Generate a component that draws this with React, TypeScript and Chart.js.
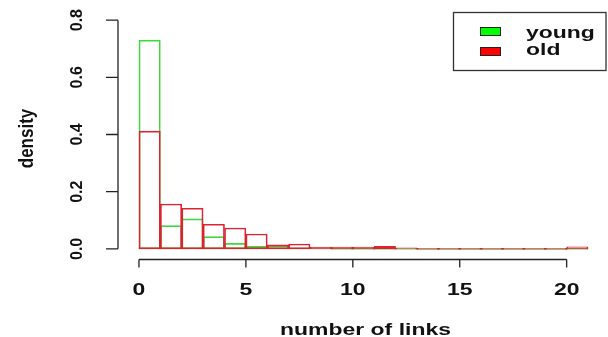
import React, { useEffect, useRef } from 'react';
import { Chart, registerables } from 'chart.js';

Chart.register(...registerables);

// Histogram bins: [start, start+1)
const binStarts = [0, 1, 2, 3, 4, 5, 6, 7, 8, 9, 10, 11, 12, 13, 14, 15, 16, 17, 18, 19, 20];
const youngDensity = [0.73, 0.081, 0.105, 0.043, 0.019, 0.009, 0.011, 0.004, 0.002, 0, 0, 0, 0, 0, 0, 0, 0, 0, 0, 0, 0];
const oldDensity = [0.412, 0.157, 0.142, 0.086, 0.073, 0.052, 0.014, 0.017, 0.006, 0.006, 0.006, 0.009, 0.004, 0, 0, 0, 0, 0, 0, 0, 0.007];
const seriesNames = ['young', 'old'];
const xTicks = [0, 5, 10, 15, 20];
const yTicks = [0, 0.2, 0.4, 0.6, 0.8];
const yTickLabels = ['0.0', '0.2', '0.4', '0.6', '0.8'];
const xTitle = 'number of links';
const yTitle = 'density';

const GREEN_LINE = '#3cd83c';
const RED_LINE = '#dd2230';
const GREEN_FILL = '#00ff00';
const RED_FILL = '#ff0000';
const FONT = '"Liberation Sans", Arial, sans-serif';

function stretchedText(ctx: CanvasRenderingContext2D, text: string, x: number, y: number, sx: number) {
  ctx.save();
  ctx.translate(x, y);
  ctx.scale(sx, 1);
  ctx.fillText(text, 0, 0);
  ctx.restore();
}

function rotatedText(ctx: CanvasRenderingContext2D, text: string, x: number, y: number, sx: number) {
  ctx.save();
  ctx.translate(x, y);
  ctx.scale(sx, 1);
  ctx.rotate(-Math.PI / 2);
  ctx.fillText(text, 0, 0);
  ctx.restore();
}

const rAxesPlugin = {
  id: 'rAxes',
  afterDraw(chart: any) {
    const { ctx, chartArea } = chart;
    const xs = chart.scales.x;
    const ys = chart.scales.y;
    ctx.save();
    ctx.strokeStyle = '#222';
    ctx.fillStyle = '#111';
    ctx.lineWidth = 1.3;

    // X axis
    const axY = chartArea.bottom + 1.5;
    ctx.beginPath();
    ctx.moveTo(xs.getPixelForValue(xTicks[0]), axY);
    ctx.lineTo(xs.getPixelForValue(xTicks[xTicks.length - 1]), axY);
    xTicks.forEach((t) => {
      const px = xs.getPixelForValue(t);
      ctx.moveTo(px, axY);
      ctx.lineTo(px, axY + 8);
    });
    ctx.stroke();
    ctx.font = 'bold 17px ' + FONT;
    ctx.textAlign = 'center';
    ctx.textBaseline = 'alphabetic';
    xTicks.forEach((t) => {
      stretchedText(ctx, String(t), xs.getPixelForValue(t), 295, 1.35);
    });
    stretchedText(ctx, xTitle, (chartArea.left + chartArea.right) / 2 + 2, 335, 1.35);

    // Y axis
    const axX = chartArea.left - 3;
    ctx.beginPath();
    ctx.moveTo(axX, ys.getPixelForValue(yTicks[0]));
    ctx.lineTo(axX, ys.getPixelForValue(yTicks[yTicks.length - 1]));
    yTicks.forEach((t) => {
      const py = ys.getPixelForValue(t);
      ctx.moveTo(axX, py);
      ctx.lineTo(axX - 12, py);
    });
    ctx.stroke();
    ctx.font = 'bold 16px ' + FONT;
    yTicks.forEach((t, i) => {
      rotatedText(ctx, yTickLabels[i], 82, ys.getPixelForValue(t), 1.0);
    });
    ctx.font = 'bold 17px ' + FONT;
    rotatedText(ctx, yTitle, 33, (ys.getPixelForValue(0) + ys.getPixelForValue(0.8)) / 2 + 4, 1.2);

    // Legend box
    const lx = 453.5, ly = 12.5, lw = 152.5, lh = 58;
    ctx.strokeStyle = '#333';
    ctx.lineWidth = 1.3;
    ctx.strokeRect(lx, ly, lw, lh);
    const swatches = [GREEN_FILL, RED_FILL];
    const rows = [27, 47];
    const baselines = [38, 55];
    seriesNames.forEach((name, i) => {
      ctx.fillStyle = swatches[i];
      ctx.fillRect(480, rows[i], 20, 8);
      ctx.strokeStyle = '#222';
      ctx.lineWidth = 1;
      ctx.strokeRect(480.5, rows[i] + 0.5, 20, 8);
      ctx.fillStyle = '#111';
      ctx.textAlign = 'left';
      ctx.font = 'bold 17px ' + FONT;
      stretchedText(ctx, name, 526, baselines[i], 1.35);
    });
    ctx.restore();
  },
};

export default function App() {
  const canvasRef = useRef<HTMLCanvasElement | null>(null);

  useEffect(() => {
    if (!canvasRef.current) return;
    const youngData = binStarts.map((s, i) => ({ x: s + 0.5, y: youngDensity[i] }));
    const oldData = binStarts.map((s, i) => ({ x: s + 0.5, y: oldDensity[i] }));
    const chart = new Chart(canvasRef.current, {
      type: 'bar',
      data: {
        datasets: [
          {
            label: seriesNames[0],
            data: youngData,
            borderColor: GREEN_LINE,
            backgroundColor: 'rgba(0,0,0,0)',
            borderWidth: 1,
            borderSkipped: false,
            minBarLength: 1,
            order: 2,
          },
          {
            label: seriesNames[1],
            data: oldData,
            borderColor: RED_LINE,
            backgroundColor: 'rgba(0,0,0,0)',
            borderWidth: 1,
            borderSkipped: false,
            minBarLength: 1,
            order: 1,
          },
        ],
      },
      options: {
        responsive: false,
        animation: false,
        layout: { padding: { left: 121, right: 2, top: 11, bottom: 79 } },
        datasets: { bar: { barPercentage: 1, categoryPercentage: 1, grouped: false } },
        plugins: { legend: { display: false }, tooltip: { enabled: false }, title: { display: false } },
        scales: {
          x: {
            type: 'linear',
            display: false,
            offset: false,
            min: -0.84,
            max: 21.84,
            ticks: { stepSize: 1, includeBounds: false },
          },
          y: {
            type: 'linear',
            display: false,
            min: -0.032,
            max: 0.832,
          },
        },
      } as any,
      plugins: [rAxesPlugin],
    });
    return () => chart.destroy();
  }, []);

  return (
    <div style={{ position: 'absolute', left: 0, top: 0, width: 608, height: 337, background: '#fff' }}>
      <canvas ref={canvasRef} width={608} height={337} />
    </div>
  );
}
